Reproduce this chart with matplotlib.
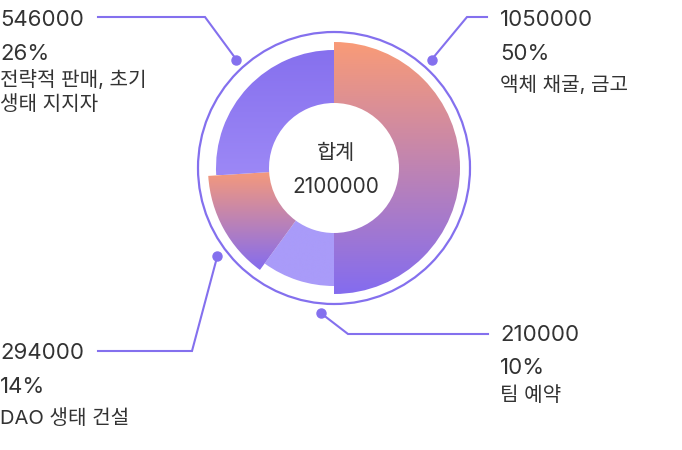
import numpy as np
import matplotlib
matplotlib.use("Agg")
import matplotlib.pyplot as plt
from matplotlib.patches import Wedge, Circle
from matplotlib.colors import LinearSegmentedColormap

plt.rcParams['font.family'] = ['Inter', 'Noto Sans CJK KR', 'DejaVu Sans']

# data (clockwise from 12 o'clock)
names = [["액체 채굴, 금고"], ["팀 예약"], ["DAO 생태 건설"], ["전략적 판매, 초기", "생태 지지자"]]
values = [1050000, 210000, 294000, 546000]
total = sum(values)

# looks
outer_r = [126, 118, 126, 118]
inner_r = 65
grads = [("#f99b77", "#846cef"), ("#a99bf9", "#a99bf9"),
         ("#f99b77", "#846cef"), ("#8670ee", "#9c88f6")]
line_col = "#8470ee"
text_col = "#333333"
cx, cy = 334, 168

# label layout: anchor angle (clockwise from 12), elbow, line end, text x, line y
label_layout = [
    (42, (467, 17), 487, 500, 17),
    (185, (348, 334), 488, 500, 334),
    (233, (192, 351), 98, 0, 351),
    (318, (205, 17), 98, 0, 17),
]
# baselines: value, percent, name lines
text_rows = [
    (26, 60, [91]),
    (341, 374, [401]),
    (359, 393, [424]),
    (26, 60, [86, 110]),
]

fig = plt.figure(figsize=(6.82, 4.5), dpi=100)
ax = fig.add_axes([0, 0, 1, 1])
ax.set_xlim(0, 682)
ax.set_ylim(450, 0)
ax.set_aspect("equal")
ax.axis("off")

# slices
start = 0.0
for v, r, (c1, c2) in zip(values, outer_r, grads):
    span = 360.0 * v / total
    w = Wedge((cx, cy), r, start - 90, start + span - 90, width=r - inner_r,
              facecolor="none", edgecolor="none")
    ax.add_patch(w)
    verts = w.get_path().vertices
    y0, y1 = verts[:, 1].min(), verts[:, 1].max()
    x0, x1 = verts[:, 0].min(), verts[:, 0].max()
    cmap = LinearSegmentedColormap.from_list("g", [c1, c2])
    grad = np.linspace(0, 1, 256).reshape(-1, 1)
    im = ax.imshow(grad, cmap=cmap, extent=(x0, x1, y1, y0), origin="upper",
                   aspect="auto", interpolation="bilinear")
    im.set_clip_path(w)
    start += span

ax.set_xlim(0, 682)
ax.set_ylim(450, 0)

# outer ring
ax.add_patch(Circle((cx, cy), 136, fill=False, edgecolor=line_col, lw=1.6))

# center text
ax.text(cx + 2, 159, "합계", ha="center", va="baseline", fontsize=15, color=text_col)
ax.text(cx + 2, 193, str(total), ha="center", va="baseline", fontsize=15, color=text_col)

# labels
for v, name, lay, rows in zip(values, names, label_layout, text_rows):
    ang, elbow, xend, tx, ly = lay
    a = np.deg2rad(ang)
    px, py = cx + 146 * np.sin(a), cy - 146 * np.cos(a)
    ax.plot([px, elbow[0], xend], [py, elbow[1], ly], color=line_col, lw=1.5,
            solid_joinstyle="miter")
    ax.plot(px, py, "o", color=line_col, ms=6.5)
    pct = f"{round(v / total * 100)}%"
    ax.text(tx, rows[0], str(v), ha="left", va="baseline", fontsize=16, color=text_col)
    ax.text(tx, rows[1], pct, ha="left", va="baseline", fontsize=16, color=text_col)
    for line, by in zip(name, rows[2]):
        ax.text(tx, by, line, ha="left", va="baseline", fontsize=14.5, color=text_col)

fig.savefig("out.png", dpi=100)
